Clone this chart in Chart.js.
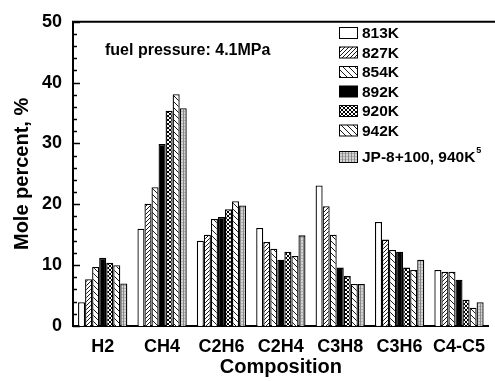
<!DOCTYPE html>
<html><head><meta charset="utf-8">
<script src="https://cdn.jsdelivr.net/npm/chart.js@4"></script>
<style>html,body{margin:0;padding:0;background:#fff;}canvas{display:block;}</style>
</head><body>
<canvas id="c" width="495" height="381"></canvas>
<script>
const categories = ['H2','CH4','C2H6','C2H4','C3H8','C3H6','C4-C5'];
const k813 = [3.9,16.0,14.0,16.1,23.1,17.1,9.2];
const k827 = [7.7,20.1,15.0,13.8,19.7,14.2,8.9];
const k854 = [9.7,22.8,17.6,12.7,15.0,12.5,8.9];
const k892 = [11.2,29.9,17.9,10.9,9.6,12.2,7.6];
const k920 = [10.4,35.4,19.2,12.2,8.2,9.6,4.3];
const k942 = [10.0,38.1,20.5,11.5,6.9,9.2,3.0];
const jp8 = [7.0,35.8,19.8,14.9,6.9,10.9,3.9];
const seriesLabels = ['813K','827K','854K','892K','920K','942K','JP-8+100, 940K'];
const yTicks = [0,10,20,30,40,50];

const FONT = "'Liberation Sans', Arial, sans-serif";

function pat(kind){
  const c = document.createElement('canvas');
  let s = 4;
  if (kind==='back') s = 6;
  if (kind==='grid') s = 3;
  c.width = s; c.height = s;
  const g = c.getContext('2d');
  g.fillStyle = '#fff'; g.fillRect(0,0,s,s);
  g.strokeStyle = '#000'; g.lineWidth = 0.9;
  if (kind==='fwd'){
    g.beginPath(); g.moveTo(-1,s+1); g.lineTo(s+1,-1); g.stroke();
    g.beginPath(); g.moveTo(-1,1); g.lineTo(1,-1); g.stroke();
    g.beginPath(); g.moveTo(s-1,s+1); g.lineTo(s+1,s-1); g.stroke();
  } else if (kind==='back'){
    g.beginPath(); g.moveTo(-1,-1); g.lineTo(s+1,s+1); g.stroke();
  } else if (kind==='cross'){
    g.lineWidth = 1;
    g.beginPath(); g.moveTo(-1,s+1); g.lineTo(s+1,-1); g.stroke();
    g.beginPath(); g.moveTo(-1,-1); g.lineTo(s+1,s+1); g.stroke();
  } else if (kind==='grid'){
    g.fillStyle = '#d4d4d4'; g.fillRect(0,0,s,s);
    g.fillStyle = '#8a8a8a'; g.fillRect(0,0,1,s);
    g.fillStyle = '#b0b0b0'; g.fillRect(1,0,s-1,1);
  }
  return document.getElementById('c').getContext('2d').createPattern(c,'repeat');
}
const fills = ['#ffffff', pat('fwd'), pat('back'), '#000000', pat('cross'), pat('back'), pat('grid')];
const allData = [k813,k827,k854,k892,k920,k942,jp8];

const overlay = {
  id:'overlay',
  afterDraw(chart){
    const ctx = chart.ctx, a = chart.chartArea, y = chart.scales.y;
    ctx.save();
    ctx.strokeStyle='#000'; ctx.lineWidth=2;
    ctx.beginPath(); ctx.moveTo(a.left-1, a.top); ctx.lineTo(chart.width, a.top); ctx.stroke();
    ctx.lineWidth=1.5;
    for(let v=0; v<=50; v+=2){
      const py = Math.round(y.getPixelForValue(v))+0.5;
      const len = (v%10===0)?7:4;
      ctx.beginPath(); ctx.moveTo(a.left, py); ctx.lineTo(a.left+len, py); ctx.stroke();
    }
    ctx.fillStyle='#000';
    ctx.font = "bold 16px "+FONT;
    ctx.textBaseline='alphabetic'; ctx.textAlign='left';
    ctx.fillText('fuel pressure: 4.1MPa', 105, 55);
    const rows = [33,52.5,72,91.5,111,130.5,157];
    ctx.font = "bold 15.5px "+FONT;
    ctx.textBaseline='middle';
    for(let i=0;i<7;i++){
      const cy = rows[i];
      ctx.fillStyle = fills[i];
      ctx.fillRect(339, cy-5.5, 18, 11);
      ctx.strokeStyle='#000'; ctx.lineWidth=1;
      ctx.strokeRect(339.5, cy-5.5, 18, 11);
      ctx.fillStyle='#000';
      ctx.fillText(seriesLabels[i], 362, cy+1);
      if(i===6){
        const w = ctx.measureText(seriesLabels[i]).width;
        ctx.font = "bold 9px "+FONT;
        ctx.fillText('5', 362+w+1, cy-6);
        ctx.font = "bold 15.5px "+FONT;
      }
    }
    ctx.restore();
  }
};

new Chart(document.getElementById('c'), {
  type:'bar',
  data:{
    labels: categories,
    datasets: allData.map((d,i)=>({
      label: seriesLabels[i], data: d,
      backgroundColor: fills[i], borderColor:'#000', borderWidth:1.3,
      barPercentage:1, categoryPercentage:0.83
    }))
  },
  options:{
    responsive:false, devicePixelRatio:1, animation:false,
    layout:{padding:{top:15,right:0,left:0,bottom:0}},
    plugins:{legend:{display:false}, tooltip:{enabled:false}},
    scales:{
      x:{
        grid:{display:false, drawTicks:false},
        border:{display:true, color:'#000', width:2},
        ticks:{color:'#000', font:{family:FONT, size:18, weight:'bold'}, padding:10, maxRotation:0, autoSkip:false},
        title:{display:true, text:'Composition', color:'#000', font:{family:FONT, size:20, weight:'bold'}, padding:{top:0,bottom:2}},
        afterFit(s){ s.height = 55; }
      },
      y:{
        min:0, max:50,
        afterBuildTicks(s){ s.ticks = yTicks.map(v=>({value:v})); },
        grid:{display:false, drawTicks:false},
        border:{display:true, color:'#000', width:2},
        ticks:{color:'#000', font:{family:FONT, size:18, weight:'bold'}, padding:11},
        title:{display:true, text:'Mole percent, %', color:'#000', font:{family:FONT, size:20, weight:'bold'}, padding:{top:10,bottom:0}},
        afterFit(s){ s.width = 73; }
      }
    }
  },
  plugins:[overlay]
});
</script>
</body></html>
